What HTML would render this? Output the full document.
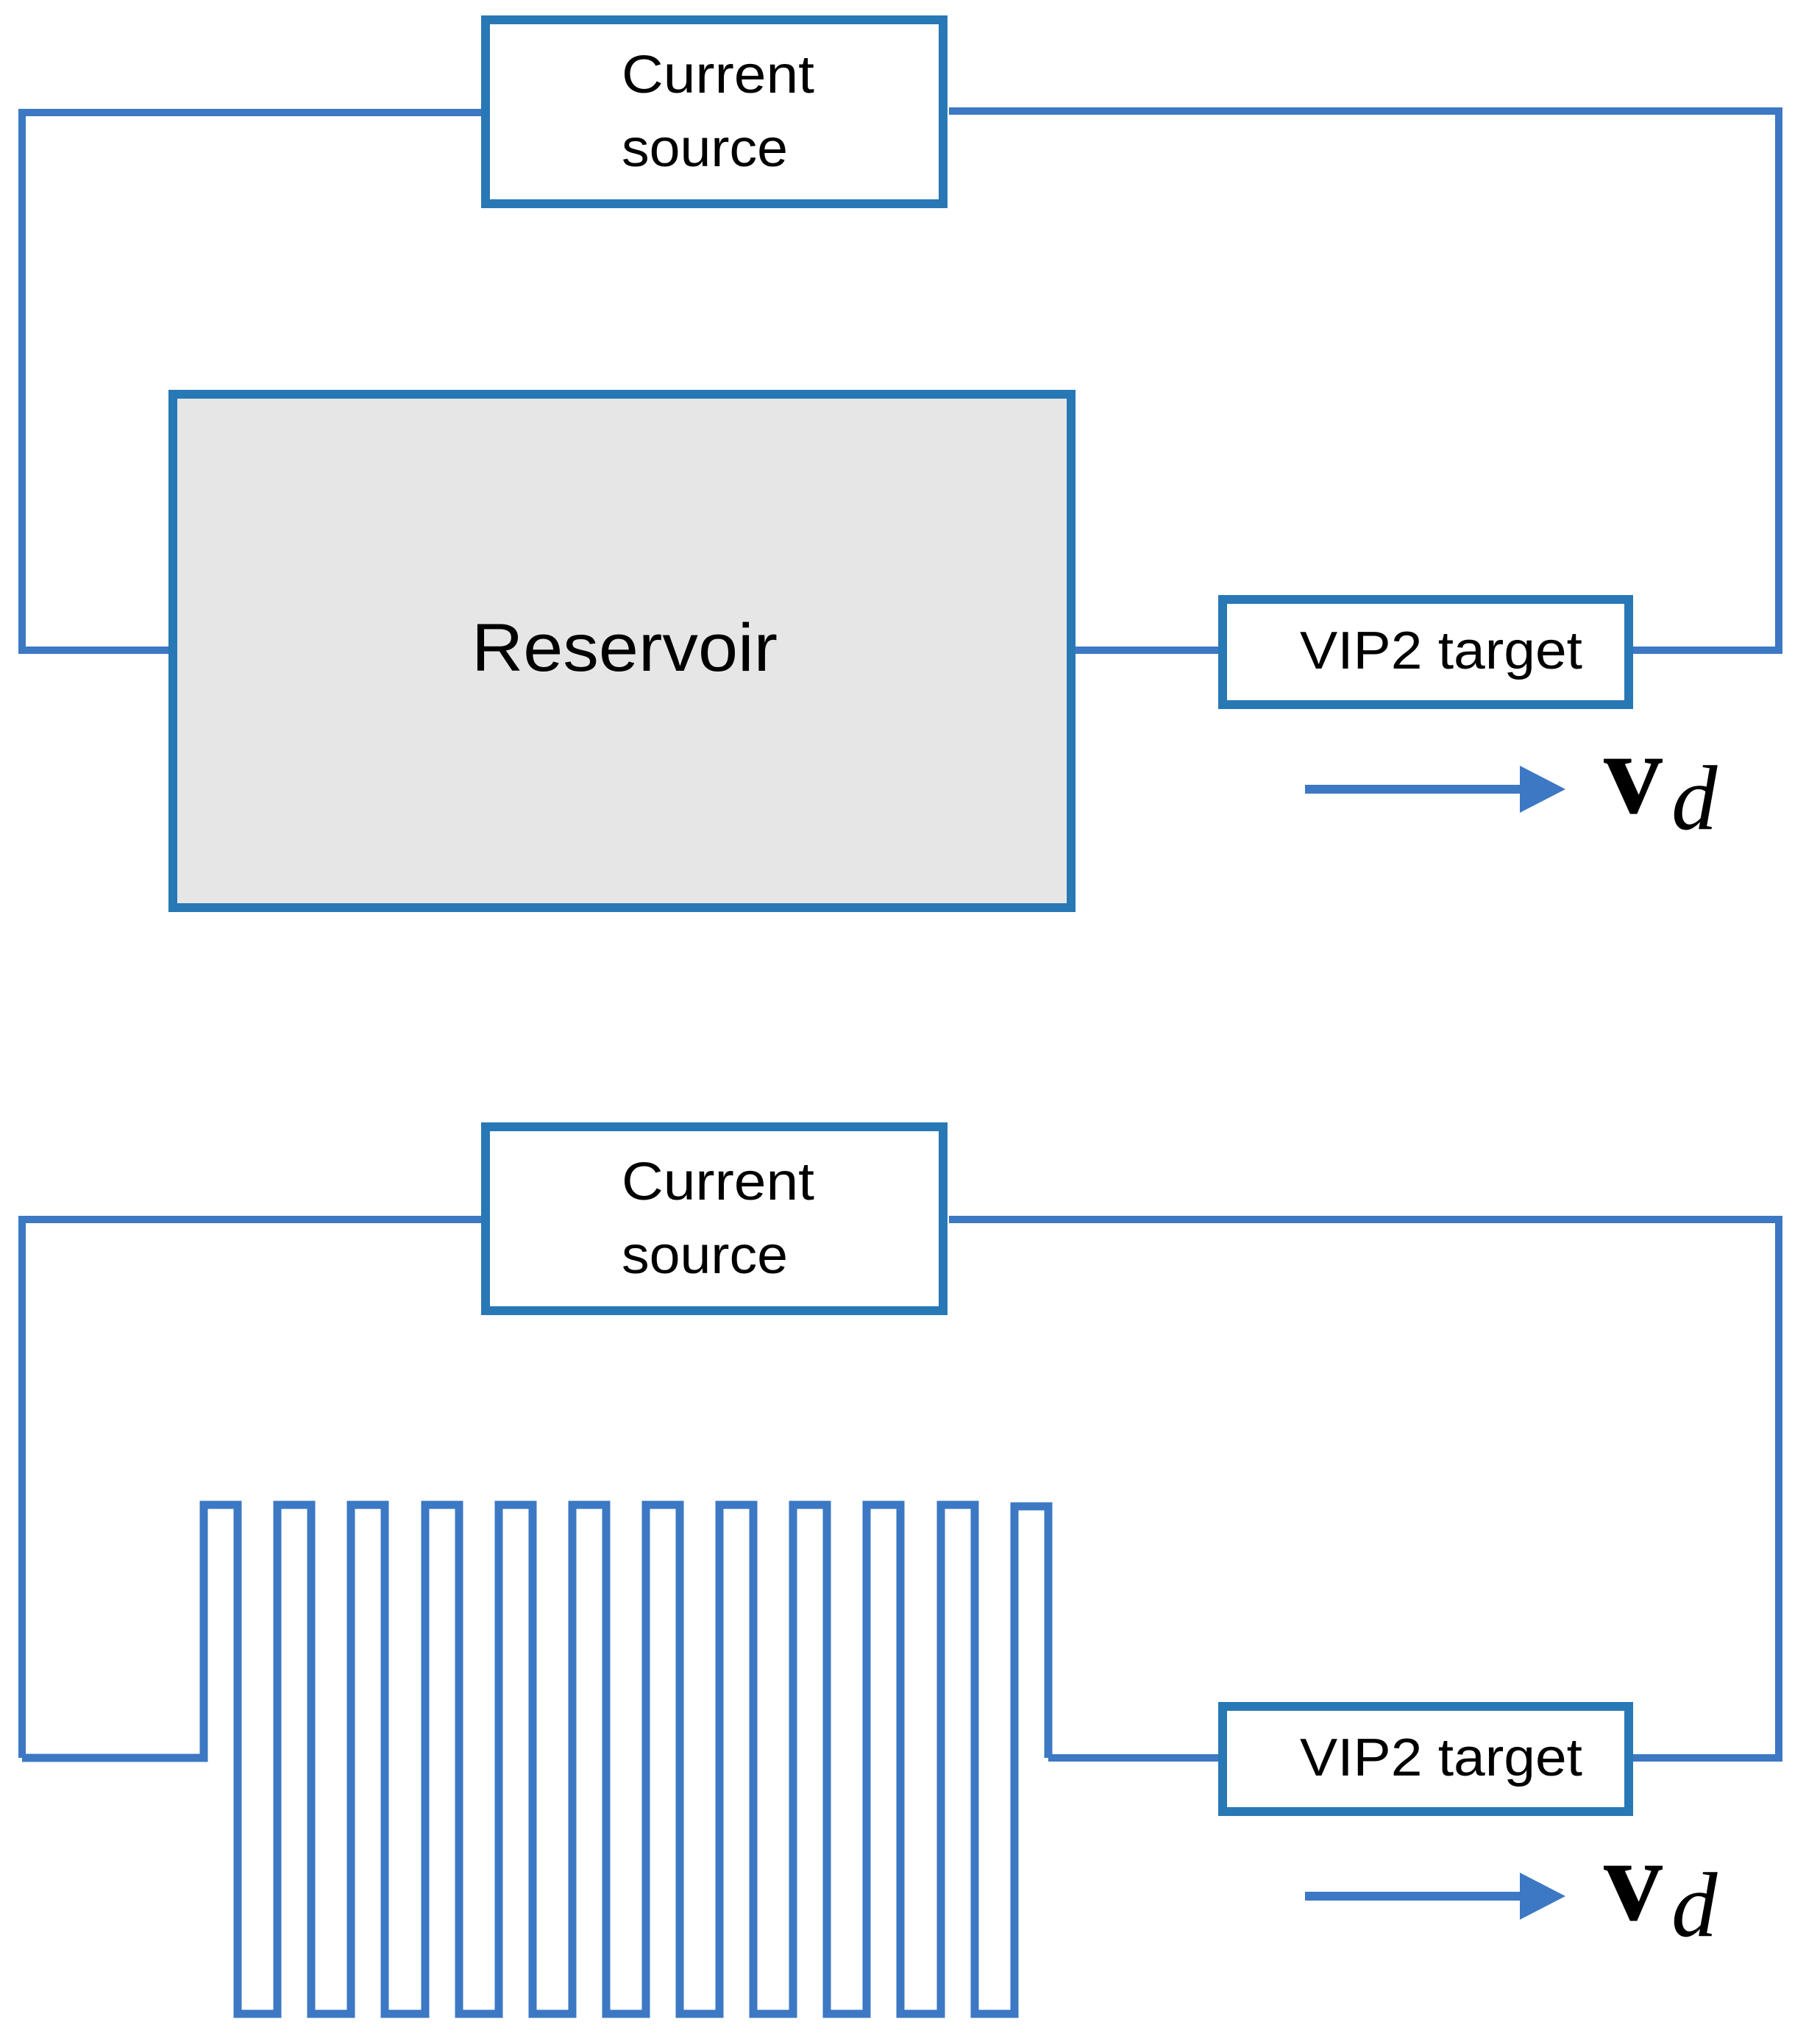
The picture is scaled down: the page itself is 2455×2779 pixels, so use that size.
<!DOCTYPE html>
<html><head><meta charset="utf-8"><style>
html,body{margin:0;padding:0;background:#fff;}
svg{display:block;}
</style></head><body>
<svg width="2455" height="2779" viewBox="0 0 2455 2779" xmlns="http://www.w3.org/2000/svg">
<g id="top">
  <polyline points="658,153 30,153 30,884 233,884" fill="none" stroke="#3c78c3" stroke-width="10"/>
  <polyline points="1290,151 2418,151 2418,884 2220,884" fill="none" stroke="#3c78c3" stroke-width="10"/>
  <line x1="1462" y1="884" x2="1660" y2="884" stroke="#3c78c3" stroke-width="10"/>
  <rect x="660" y="27" width="622" height="250" fill="#fff" stroke="#2878b6" stroke-width="12"/>
  <rect x="235" y="536" width="1221" height="698" fill="#e6e6e6" stroke="#2878b6" stroke-width="12"/>
  <rect x="1662" y="815" width="552" height="143" fill="#fff" stroke="#2878b6" stroke-width="12"/>
  <text x="845" y="126" font-family="Liberation Sans, sans-serif" font-size="72" textLength="262" lengthAdjust="spacingAndGlyphs">Current</text>
  <text x="845" y="226" font-family="Liberation Sans, sans-serif" font-size="72" textLength="226" lengthAdjust="spacingAndGlyphs">source</text>
  <text x="641" y="912" font-family="Liberation Sans, sans-serif" font-size="92" textLength="416" lengthAdjust="spacingAndGlyphs">Reservoir</text>
  <text x="1767" y="909" font-family="Liberation Sans, sans-serif" font-size="72" textLength="384" lengthAdjust="spacingAndGlyphs">VIP2 target</text>
  <line x1="1774" y1="1073" x2="2075" y2="1073" stroke="#3c78c3" stroke-width="12"/>
  <polygon points="2066,1041 2128,1073 2066,1105" fill="#3c78c3"/>
  <text x="2180" y="1105" font-family="Liberation Serif, serif" font-weight="bold" font-size="160">v</text>
  <text x="2272" y="1127" font-family="Liberation Serif, serif" font-style="italic" font-size="125">d</text>
</g>
<g id="bottom">
  <polyline points="658,1658 30,1658 30,2390" fill="none" stroke="#3c78c3" stroke-width="10"/>
  <polyline points="1290,1658 2418,1658 2418,2390 2220,2390" fill="none" stroke="#3c78c3" stroke-width="10"/>
  <line x1="1425" y1="2390" x2="1660" y2="2390" stroke="#3c78c3" stroke-width="10"/>
  <polyline fill="none" stroke="#3c78c3" stroke-width="11" stroke-linejoin="miter" points="
  30,2390 277,2390 277,2046 323,2046 323,2738 377,2738
  377,2046 423,2046 423,2738 477,2738
  477,2046 523,2046 523,2738 578,2738
  578,2046 624,2046 624,2738 678,2738
  678,2046 724,2046 724,2738 778,2738
  778,2046 824,2046 824,2738 878,2738
  878,2046 924,2046 924,2738 978,2738
  978,2046 1024,2046 1024,2738 1078,2738
  1078,2046 1124,2046 1124,2738 1178,2738
  1178,2046 1224,2046 1224,2738 1279,2738
  1279,2046 1325,2046 1325,2738 1379,2738
  1379,2048 1425,2048 1425,2390"/>
  <rect x="660" y="1532" width="622" height="250" fill="#fff" stroke="#2878b6" stroke-width="12"/>
  <rect x="1662" y="2320" width="552" height="143" fill="#fff" stroke="#2878b6" stroke-width="12"/>
  <text x="845" y="1631" font-family="Liberation Sans, sans-serif" font-size="72" textLength="262" lengthAdjust="spacingAndGlyphs">Current</text>
  <text x="845" y="1731" font-family="Liberation Sans, sans-serif" font-size="72" textLength="226" lengthAdjust="spacingAndGlyphs">source</text>
  <text x="1767" y="2414" font-family="Liberation Sans, sans-serif" font-size="72" textLength="384" lengthAdjust="spacingAndGlyphs">VIP2 target</text>
  <line x1="1774" y1="2578" x2="2075" y2="2578" stroke="#3c78c3" stroke-width="12"/>
  <polygon points="2066,2546 2128,2578 2066,2610" fill="#3c78c3"/>
  <text x="2180" y="2610" font-family="Liberation Serif, serif" font-weight="bold" font-size="160">v</text>
  <text x="2272" y="2632" font-family="Liberation Serif, serif" font-style="italic" font-size="125">d</text>
</g>
</svg>
</body></html>
